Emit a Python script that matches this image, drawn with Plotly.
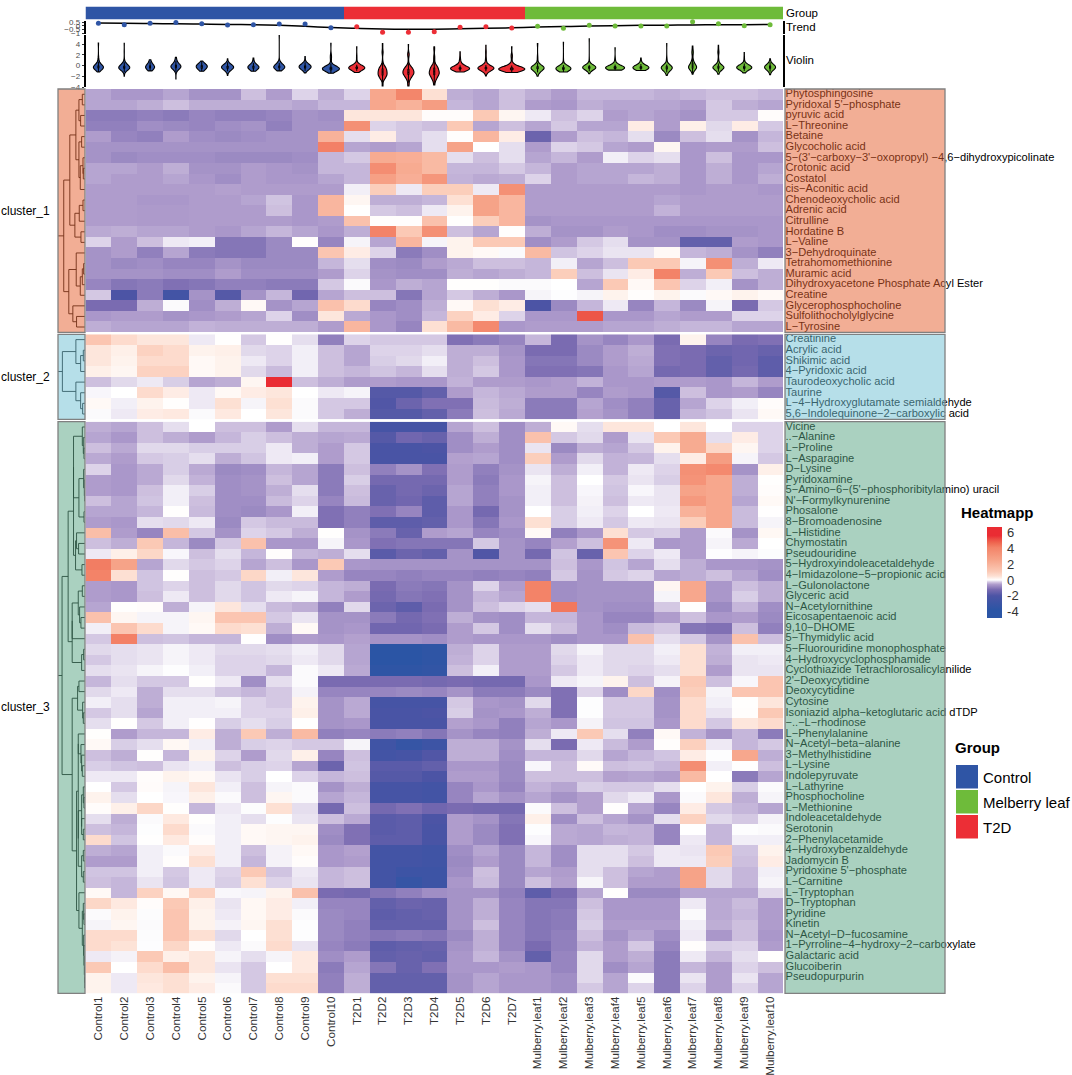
import numpy as np
import plotly.graph_objects as go

# Columns
samples = ["Control%d" % i for i in range(1, 11)] + ["T2D%d" % i for i in range(1, 8)] + \
    ["Mulberry.leaf%d" % i for i in range(1, 11)]
group_index = [0] * 10 + [1] * 7 + [2] * 10
group_colors = ["#2F55A5", "#EC2E36", "#6EBB3A"]

# Row labels
rows_cluster_1 = ["Phytosphingosine", "Pyridoxal 5'-phosphate", "pyruvic acid", "L-Threonine", "Betaine",
                  "Glycocholic acid", "5-(3'-carboxy-3'-oxopropyl) -4,6-dihydroxypicolinate", "Crotonic acid",
                  "Costatol", "cis-Aconitic acid", "Chenodeoxycholic acid", "Adrenic acid", "Citrulline",
                  "Hordatine B", "L-Valine", "3-Dehydroquinate", "Tetrahomomethionine", "Muramic acid",
                  "Dihydroxyacetone Phosphate Acyl Ester", "Creatine", "Glycerophosphocholine",
                  "Sulfolithocholylglycine", "L-Tyrosine"]
rows_cluster_2 = ["Creatinine", "Acrylic acid", "Shikimic acid", "4-Pyridoxic acid", "Taurodeoxycholic acid",
                  "Taurine", "L-4-Hydroxyglutamate semialdehyde", "5,6-Indolequinone-2-carboxylic acid"]
rows_cluster_3 = ["Vicine", "..-Alanine", "L-Proline", "L-Asparagine", "D-Lysine", "Pyridoxamine",
                  "5-Amino-6-(5'-phosphoribitylamino) uracil", "N'-Formylkynurenine", "Phosalone",
                  "8-Bromoadenosine", "L-Histidine", "Chymostatin", "Pseudouridine", "5-Hydroxyindoleacetaldehyde",
                  "4-Imidazolone-5-propionic acid", "L-Gulonolactone", "Glyceric acid", "N-Acetylornithine",
                  "Eicosapentaenoic acid", "9,10-DHOME", "5-Thymidylic acid", "5-Fluorouridine monophosphate",
                  "4-Hydroxycyclophosphamide", "Cyclothiazide Tetrachlorosalicylanilide", "2'-Deoxycytidine",
                  "Deoxycytidine", "Cytosine", "Isoniazid alpha-ketoglutaric acid dTDP", "-..-L-rhodinose",
                  "L-Phenylalanine", "N-Acetyl-beta-alanine", "3-Methylhistidine", "L-Lysine", "Indolepyruvate",
                  "L-Lathyrine", "Phosphocholine", "L-Methionine", "Indoleacetaldehyde", "Serotonin",
                  "2-Phenylacetamide", "4-Hydroxybenzaldehyde", "Jadomycin B", "Pyridoxine 5'-phosphate",
                  "L-Carnitine", "L-Tryptophan", "D-Tryptophan", "Pyridine", "Kinetin", "N-Acetyl-D-fucosamine",
                  "1-Pyrroline-4-hydroxy-2-carboxylate", "Galactaric acid", "Glucoiberin", "Pseudopurpurin", ""]

# Colour levels read from the cells, Control 1-10 | T2D 1-7 | Mulberry leaf 1-10
values_cluster_1 = [
    [-0.9, -1.1, -1.1, -0.9, -1.2, -1.2, -0.6, -1.0, -0.4, -0.8, -0.4, 1.9, 2.9, 0.5, -0.8, -0.9, -0.6, -0.8, -1.0, -0.7, -0.7, -0.7, -0.8, -0.7, -0.6, -0.6, -0.7],
    [-0.9, -0.9, -0.8, -0.6, -0.8, -0.8, -0.8, -0.8, -0.9, -0.7, -0.7, 1.9, 1.6, 2.2, -0.7, -0.9, -0.6, -1.0, -1.1, -0.8, -0.9, -0.9, -0.9, -1.0, -0.5, -0.8, -0.9],
    [-1.7, -1.7, -1.6, -1.7, -1.5, -1.6, -1.6, -1.5, -1.2, -1.3, 0.4, 0.4, 0.4, 0.05, 0.05, 1.0, 0.15, -0.2, -0.6, -0.4, -1.0, -0.9, -1.0, -1.2, -0.5, -0.5, 0.05],
    [-1.6, -1.6, -1.3, -1.4, -1.5, -1.3, -1.2, -1.6, -1.2, -1.2, 2.6, -0.4, -0.5, -0.6, 1.0, -0.9, -0.6, -0.9, -0.5, -0.9, -0.9, 0.3, -1.0, 0.25, -0.35, 0.3, -0.5],
    [-1.0, -1.5, -1.6, -1.0, -1.3, -1.4, -1.3, -1.2, -1.2, 1.6, -0.3, 0.3, -0.5, -0.3, 0.03, 1.5, 0.3, -2.3, -1.0, -0.6, -0.7, -0.3, -1.4, -0.6, -0.3, -1.2, -0.7],
    [-1.2, -1.2, -1.2, -1.2, -1.2, -1.2, -1.2, -1.2, -1.2, 3.1, -0.9, -1.0, -0.9, -0.3, 2.0, 0.0, -0.3, -1.0, -0.4, -0.5, -0.9, -1.0, 0.15, -1.1, -1.0, -1.0, -0.6],
    [-1.2, -1.4, -1.3, -1.3, -1.3, -1.4, -1.4, -1.4, -1.3, -0.7, -0.5, 1.8, 1.7, 1.4, -0.3, -0.6, -0.3, -0.9, -0.7, -1.0, -0.15, -0.4, -0.3, -1.1, -0.6, -1.1, -1.1],
    [-0.9, -0.9, -1.0, -0.8, -1.2, -1.2, -1.0, -1.1, -1.2, -0.7, -0.7, 2.7, 1.8, 1.4, -0.7, -0.7, -0.5, -0.7, -1.0, -0.9, -0.9, -0.9, -0.8, -1.1, -0.8, -1.1, -0.9],
    [-0.9, -1.0, -1.0, -0.9, -1.1, -1.3, -1.0, -1.1, -1.1, -0.9, -0.7, 2.1, 1.7, 2.4, -0.75, -0.85, -0.8, -0.4, -1.0, -0.9, -0.9, -0.7, -0.8, -1.1, -0.8, -1.1, -0.8],
    [-1.0, -1.0, -1.0, -1.0, -1.0, -0.95, -1.0, -1.0, -1.0, -1.0, -0.15, 0.9, -0.2, 0.9, 0.9, -0.2, 2.6, -1.0, -1.0, -1.0, -1.0, -1.0, -1.0, -1.1, -1.0, -1.0, -1.1],
    [-1.0, -1.0, -1.1, -1.1, -1.0, -1.0, -0.9, -0.55, -1.1, 1.5, 0.15, -0.8, -0.8, -0.7, 0.5, 2.0, 1.5, -1.0, -1.0, -1.0, -1.0, -1.0, -0.9, -1.0, -1.0, -1.0, -1.0],
    [-1.0, -1.0, -1.05, -1.05, -1.0, -1.0, -1.0, -0.6, -1.1, 1.5, 0.02, -0.5, -0.6, -0.2, 0.2, 2.0, 1.5, -1.0, -1.0, -1.0, -1.0, -1.0, -0.75, -1.0, -1.0, -1.0, -1.0],
    [-1.0, -1.0, -1.05, -1.05, -1.0, -1.0, -1.0, -1.0, -1.1, -1.0, 1.2, 0.03, 0.03, 1.2, 0.02, 0.9, 1.5, -1.2, -1.1, -1.1, -1.1, -1.1, -1.1, -1.1, -1.1, -1.1, -1.1],
    [-0.85, -0.8, -0.9, -0.9, -1.0, -1.1, -0.9, -0.7, -0.9, -1.1, -0.8, 3.0, 1.0, 2.6, -0.6, -0.9, 0.02, -0.8, -1.2, -1.2, -1.0, -1.1, -1.3, -1.3, -1.2, -1.2, -1.1],
    [-0.4, -1.0, -0.6, -0.2, -0.15, -1.8, -1.8, -1.4, 0.03, -1.5, -0.1, -0.9, 1.5, -0.1, 0.2, 1.0, 1.0, -1.3, -1.0, -0.5, -0.3, -1.2, -1.2, -2.5, -2.5, -1.0, -1.1],
    [-1.2, -1.0, -1.6, -0.9, -1.7, -1.8, -1.8, -1.4, -1.4, 1.1, 0.3, -0.4, -1.7, -1.3, 0.2, 0.1, -0.05, 1.4, -0.55, -0.4, -0.25, -0.25, 0.1, -0.7, -0.8, -1.2, -1.6],
    [-1.2, -1.4, -1.3, -1.5, -1.5, -1.2, -1.4, -1.4, -1.4, -0.7, -0.3, -1.3, -1.4, -1.0, -0.85, -0.6, -0.6, -0.7, -0.15, -0.9, -0.6, 1.0, 1.0, -0.1, 2.6, -0.8, -0.2],
    [-1.2, -1.2, -1.2, -1.3, -1.3, -1.0, -1.3, -1.3, -1.3, -1.0, -0.4, -1.2, -1.3, -1.3, -0.8, -0.9, -0.8, -0.7, 0.9, -0.6, -0.25, 0.3, 3.0, -0.8, 1.0, -0.6, -0.8],
    [-1.5, -1.8, -1.7, -1.9, -1.8, -1.6, -1.6, -1.7, -1.7, -0.5, -0.05, -1.1, -0.8, -0.9, 0.02, 0.02, -0.05, -0.05, 0.0, -0.9, 1.0, 0.1, 1.1, -0.4, -0.15, -1.2, -0.8],
    [-0.5, -3.0, -1.7, -3.3, -1.2, -2.8, -1.2, -0.7, -2.2, -0.9, -0.6, -0.6, -1.8, -0.9, -0.5, -0.8, -1.1, -0.1, -0.02, -0.1, 0.2, 0.03, 0.2, -0.05, 0.1, 0.2, 0.1],
    [-2.0, -2.0, -0.8, -0.05, -1.3, -0.8, 0.1, -1.2, -0.9, 1.2, 0.6, -1.5, -1.3, -0.8, 0.1, 0.5, 0.3, -3.0, -1.4, -0.7, -0.2, -1.5, -0.7, -1.4, -0.1, -2.0, -0.5],
    [-1.1, -1.0, -1.0, -1.2, -1.1, -1.0, -0.9, -0.4, -1.3, 0.4, -0.85, -1.1, -1.3, -0.7, 0.8, 0.3, -0.4, -1.1, -1.1, 4.5, -1.1, -1.1, -0.9, -1.0, -1.0, -0.4, -0.4],
    [-0.8, -0.9, -0.9, -0.9, -0.75, -0.8, -0.8, -0.8, -0.8, -1.0, 1.5, -1.1, -1.5, 0.5, 1.4, 2.8, -1.1, -1.0, -1.0, -1.0, -0.9, -0.9, -0.8, -0.7, -0.7, -0.9, -0.9],
]
values_cluster_2 = [
    [1.1, 0.6, 0.4, 0.4, -0.2, 0.02, -0.5, 0.02, -0.3, -1.6, -0.4, -0.5, -0.5, -0.5, -1.9, -1.7, -1.5, -0.7, -2.0, -1.2, -1.5, -1.1, -2.0, 0.2, -1.5, -2.0, -1.9],
    [0.4, 0.25, 0.8, 0.6, 0.2, 0.25, -0.35, -0.4, -0.15, -0.6, -0.9, -0.4, -0.4, -0.3, -0.8, -0.8, -1.2, -2.0, -2.0, -1.4, -1.0, -0.8, -1.9, -2.0, -2.3, -2.2, -2.4],
    [0.4, 0.2, 0.6, 0.6, 0.1, 0.2, -0.2, -0.4, -0.15, -0.6, -0.9, -0.45, -0.35, -0.15, -0.8, -0.6, -1.1, -1.8, -1.8, -1.4, -1.0, -0.85, -1.9, -2.0, -2.5, -2.2, -2.6],
    [0.25, 0.15, 0.8, 0.8, 0.1, 0.2, -0.35, -0.65, -0.15, -0.6, -0.7, -0.55, -0.7, -0.3, -0.8, -0.5, -1.1, -1.9, -1.9, -1.8, -1.1, -0.9, -2.1, -2.0, -2.5, -2.1, -2.6],
    [-0.6, -0.35, -0.2, -0.45, -0.9, -0.8, 0.15, 6.0, -0.6, -0.8, -1.0, -1.0, -1.1, -1.1, -0.75, -1.0, -1.0, -1.1, -1.0, -0.75, -1.1, -1.1, -1.0, -1.0, -1.1, -0.7, -1.0],
    [-0.08, 0.0, 0.6, 0.3, -0.2, 0.1, 0.3, 0.4, 0.0, -0.2, -0.1, -2.8, -2.8, -2.5, -1.0, -0.7, -0.85, -1.0, -1.0, -1.5, -1.0, -1.1, -2.8, -0.6, -1.1, -1.0, -1.5],
    [0.1, -0.15, 0.2, 0.02, -0.2, 0.5, -0.1, 0.5, -0.05, -0.5, -0.5, -2.9, -2.3, -1.9, -1.9, -0.65, -0.8, -1.7, -1.7, -0.9, -1.3, -1.6, -2.4, -0.9, -0.4, -0.15, 0.05],
    [-0.05, -0.2, 0.3, 0.35, -0.05, 0.35, 0.0, 0.4, -0.05, -0.5, -0.8, -2.8, -2.8, -2.5, -1.7, -0.6, -0.85, -1.7, -1.7, -0.95, -1.2, -1.6, -2.4, -0.7, -0.55, -0.25, 0.1],
]
values_cluster_3 = [
    [-0.8, -0.9, -0.6, -0.3, 0.0, -0.6, -0.6, -1.0, -0.3, -0.7, -0.7, -3.2, -3.2, -3.2, -0.9, -0.6, -1.3, -0.8, 0.1, -0.3, 0.4, 0.4, 0.0, 0.4, 0.0, -0.4, -0.4],
    [-0.9, -1.1, -0.6, -0.8, -1.0, -0.7, -0.45, -0.6, -0.8, -0.9, -0.85, -2.8, -2.2, -2.4, -1.3, -0.8, -1.3, 1.2, -0.5, -0.35, -1.0, -0.25, 1.0, 1.8, -0.3, 0.3, -0.4],
    [-0.6, -0.85, -0.35, -0.35, -0.45, -0.45, -0.45, -0.2, -0.8, -1.0, -0.5, -3.1, -3.1, -3.0, -1.3, -1.0, -1.3, -0.25, -1.4, -0.8, -0.9, -0.5, 0.2, 1.8, 0.7, 0.15, -0.4],
    [-0.85, -1.0, -0.5, -0.45, -0.3, -0.8, -0.55, -0.2, -0.15, -1.0, -0.5, -3.1, -3.1, -3.1, -0.95, -0.9, -1.3, 0.9, -1.0, -0.35, -0.75, -0.7, -0.3, 0.3, 2.2, -0.1, -0.5],
    [-0.4, -1.1, -0.85, -0.45, -0.85, -1.4, -1.3, -0.7, -0.9, -1.7, -0.6, -1.6, -1.2, -1.9, -1.0, -1.6, -1.2, -0.25, -0.8, -0.15, -0.75, -0.2, -0.4, 2.6, 2.8, -1.2, 0.25],
    [-1.0, -1.1, -0.85, -0.35, -0.75, -1.3, -1.2, -0.6, -0.9, -1.7, -0.45, -2.1, -2.1, -2.1, -1.0, -1.7, -1.1, -0.1, -0.6, 0.0, -0.5, -0.25, -0.45, 2.5, 1.9, -0.8, 0.02],
    [-1.0, -1.1, -0.6, -0.15, -0.45, -1.3, -1.2, -0.8, -0.3, -1.7, -0.6, -2.4, -2.1, -2.3, -0.9, -1.6, -1.1, -0.15, -0.6, -0.08, -0.55, -0.08, -0.25, 2.0, 1.9, -0.8, 0.05],
    [-0.6, -0.9, -0.55, -0.15, -0.6, -1.3, -1.3, -0.65, -0.4, -1.5, -0.65, -2.4, -2.2, -2.6, -0.9, -1.6, -1.2, -0.15, -0.6, -0.12, -0.6, -0.2, -0.25, 2.3, 1.9, -0.9, 0.1],
    [-0.9, -0.9, -0.7, 0.02, -0.65, -1.3, -1.4, -1.1, -0.15, -1.9, -1.6, -1.9, -1.5, -2.6, -1.1, -2.1, -1.2, 0.0, -0.45, -0.15, -0.4, 0.0, -0.2, 1.6, 1.9, -0.65, 0.01],
    [-1.0, -1.1, -0.3, -0.35, -0.2, -1.4, -0.5, -0.65, -0.65, -1.9, -1.6, -2.6, -2.6, -2.5, -1.1, -1.8, -1.1, 0.5, -0.45, -0.2, -0.5, -0.2, -0.25, 0.9, 1.9, -0.65, -0.1],
    [1.3, -1.0, -1.5, 1.3, -0.5, -1.2, -0.4, -0.5, -0.8, 0.02, -1.2, -1.7, -2.4, -1.0, -0.9, -1.5, -1.3, 0.1, -1.6, -1.1, 0.5, -0.5, -0.45, -1.0, -0.05, -1.2, 0.12],
    [-0.6, -0.8, 1.0, -0.7, -1.4, -0.5, 1.2, -1.1, -1.1, -0.1, -1.1, -1.9, -1.8, -1.8, -1.8, -0.5, -1.2, -1.5, -0.95, -0.6, 2.5, -0.2, -1.1, -1.0, -0.1, -0.85, 0.0],
    [-0.2, 0.25, 0.7, -0.08, -0.6, -0.3, -0.7, 0.03, -0.7, -0.8, -0.3, -2.7, -2.3, -2.5, -1.2, -2.9, -1.2, -2.1, -0.55, -2.4, 1.1, -0.4, -0.2, -1.0, -0.02, -0.1, -0.03],
    [3.2, 2.0, -0.9, -0.35, -0.5, -0.4, -0.9, -0.6, -1.1, 1.0, -1.1, -1.2, -1.2, -1.2, -1.2, -1.2, -1.2, -1.2, -0.6, -1.1, -0.55, -0.9, -0.3, -0.8, -1.1, -1.1, -1.2],
    [3.0, 0.5, -0.55, 0.02, -0.6, -0.5, 0.7, -0.15, 0.4, -1.0, -1.5, -1.5, -1.6, -1.5, -1.5, -1.6, -1.5, -1.6, -0.5, -1.2, -0.5, -0.4, -0.9, -0.8, -0.6, -0.9, -1.3],
    [-1.0, -1.1, -0.55, -0.4, -0.6, -0.35, -0.55, -0.35, -0.4, -0.7, -0.8, -2.0, -1.7, -1.8, -1.2, -0.4, -1.0, 3.0, -1.3, -1.2, -1.2, -1.2, 0.15, 1.9, -1.1, -0.6, -0.8],
    [-1.0, -1.1, -0.6, -0.2, -0.6, -0.35, -0.55, -0.2, -0.1, -0.7, -1.0, -2.1, -1.8, -1.9, -1.2, -0.7, -0.9, 3.0, -1.3, -1.2, -1.2, -1.2, -0.1, 1.9, -1.1, -0.45, -0.8],
    [-0.9, 0.02, 0.05, -0.8, -0.1, 0.4, -0.3, -0.65, -0.8, -1.6, -0.35, -2.3, -2.6, -2.0, -1.2, -0.6, -0.4, -0.3, 3.4, -1.2, -1.3, -1.3, -0.5, 0.02, -1.4, -0.7, -1.3],
    [1.2, 0.15, -0.1, -0.1, 0.15, 1.1, 1.1, -0.5, -0.25, -1.2, -1.2, -1.7, -2.1, -1.9, -0.8, -1.2, -1.3, -0.7, -0.7, -1.1, -1.5, -1.5, -1.0, -0.6, -1.1, -1.0, -1.4],
    [-0.15, 1.1, 0.6, -0.1, 0.1, 0.6, 0.5, -0.8, 0.1, -1.2, -1.1, -2.2, -2.2, -2.0, -1.0, -0.5, -1.3, -0.3, -0.6, -1.1, -1.3, -0.65, -0.5, -1.8, -1.9, -0.6, -1.6],
    [-0.5, 3.1, -0.6, -0.55, -0.7, -0.7, 0.01, -1.3, -1.0, -1.1, -0.95, -1.2, -1.2, -1.3, -1.0, -1.1, -1.1, -1.1, -1.3, -1.1, -1.1, 1.2, -0.3, -0.5, -1.2, 1.2, -0.6],
    [-0.35, -0.3, -0.25, -0.1, -0.2, -0.35, -0.35, -0.3, -0.15, -0.35, -0.9, -4.0, -4.0, -3.9, -0.8, -0.4, -1.0, -1.0, -0.35, -0.1, -0.35, -0.35, -0.15, 0.5, -0.75, -0.15, -0.15],
    [-0.5, -0.3, -0.25, -0.1, -0.2, -0.4, -0.4, -0.35, -0.2, -0.35, -0.9, -4.0, -4.0, -3.9, -0.75, -0.4, -1.0, -1.0, -0.4, -0.2, -0.35, -0.35, -0.2, 0.5, -0.8, -0.25, -0.2],
    [-0.3, -0.25, -0.1, -0.02, -0.15, -0.4, -0.4, -0.7, -0.05, -0.2, -0.85, -3.9, -3.9, -3.8, -0.6, -0.15, -1.0, -1.0, -0.5, -0.2, -0.35, -0.4, -0.3, 0.5, -1.0, -0.25, -0.25],
    [-0.7, -0.3, -0.5, -0.5, 0.02, -0.2, -1.3, -0.3, -0.05, -2.0, -2.0, -2.0, -2.0, -2.1, -2.0, -2.1, -2.1, -1.1, -0.2, -0.1, 0.2, -0.6, -0.12, 1.0, -0.6, -0.08, 1.1],
    [-0.35, -0.2, -0.8, -0.3, -0.3, -0.55, -0.7, -0.5, -0.12, -1.5, -1.5, -1.5, -1.4, -1.5, -1.2, -1.7, -1.7, -1.4, -1.9, -0.4, -1.3, 0.7, -1.3, 0.9, -0.1, 1.1, 1.1],
    [-0.15, -0.3, -0.8, -0.15, -0.15, -0.1, -0.4, -0.5, 0.2, -1.2, -0.85, -3.2, -3.2, -3.2, -0.5, -1.1, -1.2, -0.35, -1.9, -0.02, -0.5, -0.5, -1.2, 0.6, -0.15, 0.02, 0.4],
    [-0.5, -0.3, -0.9, -0.15, -0.15, -0.15, -0.4, -0.4, 0.25, -1.2, -0.85, -3.1, -3.1, -3.0, -0.45, -1.2, -1.1, -0.8, -1.9, -0.02, -0.5, -0.5, -1.2, 0.6, -0.25, 0.03, 1.0],
    [-0.3, 0.02, -0.5, -0.15, 0.01, -0.45, -0.3, -0.45, 0.01, -1.2, -1.1, -3.1, -3.1, -3.1, -0.95, -1.1, -1.6, -0.9, -1.1, -0.12, -0.55, -0.55, -1.1, 0.6, -0.5, 0.4, 0.6],
    [0.02, -1.0, -0.7, -0.7, 0.3, -0.8, 1.0, -0.8, 1.4, -1.6, -1.5, -1.7, -1.6, -1.8, -1.2, -1.5, -1.6, -0.8, -0.2, 1.0, -0.3, -1.6, 0.1, -0.75, -1.2, -0.7, -1.7],
    [0.1, -0.45, -0.3, 0.12, -0.15, -0.8, -0.45, -0.4, -0.5, -0.5, -0.1, -3.4, -3.7, -3.5, -0.8, -0.8, -1.2, -0.3, -2.0, -0.2, -0.65, -1.0, 0.03, 0.85, -0.2, -0.7, -0.5],
    [-0.6, -0.8, 0.02, -0.7, 0.2, -0.4, -1.0, -0.35, 0.25, -1.5, -0.6, -3.3, -3.2, -2.9, -0.8, -0.8, -1.3, -0.7, -0.7, -0.35, -0.9, -0.7, -0.55, 0.3, -0.02, 1.9, -0.8],
    [-0.45, -0.55, -0.6, -0.25, -0.15, -0.6, -0.45, -0.4, -0.9, -2.3, -0.55, -2.7, -2.7, -2.5, -1.1, -1.1, -1.4, -0.08, -0.6, 0.08, -0.6, -0.55, -0.7, 2.7, -0.15, 0.01, -0.6],
    [-0.2, -0.2, 0.05, 0.2, 0.1, -0.25, -0.45, 0.0, -0.4, -0.7, -0.6, -2.8, -2.8, -3.0, -1.0, -1.0, -1.4, -0.6, -0.6, -0.6, -0.95, -0.9, -1.0, 1.4, 0.0, -1.7, -0.9],
    [0.0, -0.5, 0.06, -0.1, 0.4, -0.15, -0.6, -0.1, -0.05, -1.2, -0.8, -3.2, -3.2, -3.3, -1.5, -1.1, -1.5, -0.75, -0.9, -0.45, -0.5, -0.5, -0.3, 0.0, 0.2, -0.45, -0.05],
    [0.2, -0.3, 0.0, -0.08, 0.25, -0.05, -0.6, 0.15, -0.05, -0.9, -0.7, -3.2, -3.2, -3.3, -1.5, -0.9, -1.2, -0.9, -1.2, -0.95, -0.35, -0.2, -1.1, -0.05, 0.4, -0.8, -0.1],
    [0.05, 0.25, 0.7, 0.02, -0.7, -0.2, -0.03, 0.5, -0.3, -2.1, -0.6, -2.1, -1.9, -2.2, -2.0, -2.1, -2.1, -0.05, -0.6, -0.95, 0.02, -0.9, -1.5, 0.3, -0.5, -0.7, -0.9],
    [-0.3, -0.8, -0.05, 0.35, 0.02, -0.15, -0.3, -0.02, -0.25, -0.6, -0.85, -2.7, -2.6, -3.0, -1.0, -1.2, -1.8, 0.25, -1.3, -0.6, -0.9, -1.2, -0.3, 0.8, -0.35, -0.5, -0.12],
    [-0.6, -0.7, -0.02, 0.6, -0.05, -0.15, 0.1, 0.15, 0.15, -1.3, -1.9, -2.7, -2.6, -3.1, -1.0, -1.4, -1.9, -0.02, -0.85, -0.9, -0.7, -0.75, -1.5, 0.0, -0.7, -0.02, -0.05],
    [0.6, -0.55, 0.01, 0.35, 0.03, -0.15, 0.1, 0.15, 0.2, -1.4, -1.9, -2.6, -2.6, -3.1, -1.0, -1.4, -1.9, -0.08, -0.85, -0.9, -0.8, -0.75, -1.5, -0.2, -0.7, -0.15, -0.15],
    [-0.8, -0.9, -0.15, -0.05, 0.3, -0.15, -0.6, -0.12, 0.1, -1.1, -0.95, -3.3, -3.3, -3.4, -1.3, -0.9, -1.4, -0.7, -1.3, -0.3, -0.3, -0.5, -0.2, -0.25, 1.0, -0.55, 0.2],
    [-1.0, -1.0, -0.15, 0.03, 0.5, -0.15, -0.7, -0.12, 0.05, -1.1, -1.0, -3.3, -3.3, -3.4, -1.4, -1.0, -1.4, -0.7, -1.3, -0.3, -0.3, -0.6, -0.2, -0.2, 0.9, -0.6, 0.3],
    [-0.55, -0.55, -0.15, -0.5, -0.2, -0.4, 1.0, -0.55, -0.2, -0.7, -0.6, -3.3, -3.5, -3.5, -1.3, -0.6, -1.4, -0.9, -1.0, -0.3, -0.6, -0.9, -1.0, 2.0, -0.35, -0.7, -0.15],
    [-0.6, -0.7, -0.25, -0.55, -0.2, -0.45, 0.5, -0.4, -0.25, -0.7, -0.6, -3.3, -3.7, -3.5, -1.1, -0.65, -1.4, -0.6, -0.95, -0.1, -0.6, -1.0, -1.0, 2.0, -0.35, -0.7, -0.1],
    [0.1, -0.7, 0.8, 0.12, 0.8, -0.07, -0.1, 0.2, 1.2, -2.0, -2.1, -1.8, -1.6, -1.3, -1.2, -1.2, -1.6, -2.6, -2.0, -0.9, 0.02, -1.4, -1.4, -0.9, -0.9, -0.9, -0.35],
    [0.7, 0.35, 0.05, 1.0, 0.25, -0.25, 0.12, 0.3, -0.15, -1.5, -1.5, -2.5, -2.3, -2.4, -1.2, -0.8, -1.5, -1.8, -1.8, -0.6, -1.1, -1.1, -1.1, -0.2, -0.85, -0.65, -1.0],
    [-0.05, 0.2, -0.03, 1.1, 0.2, -0.2, 0.12, 0.3, -0.05, -1.4, -1.5, -2.6, -2.5, -2.4, -1.2, -0.8, -1.5, -1.8, -1.7, -0.5, -1.1, -1.1, -1.1, -0.05, -0.85, -0.7, -1.0],
    [-0.1, 0.15, -0.05, 1.1, 0.2, -0.12, 0.15, 0.5, -0.02, -1.4, -1.6, -2.5, -2.5, -2.5, -1.2, -0.6, -1.5, -1.8, -1.7, -0.45, -1.0, -1.0, -1.0, -0.15, -0.8, -0.6, -1.0],
    [0.6, 0.6, -0.03, 1.1, 0.5, -0.35, 0.0, 0.5, -0.02, -1.4, -1.6, -1.8, -1.7, -1.8, -1.4, -0.8, -1.5, -1.8, -1.6, -0.6, -1.2, -0.9, -1.3, -0.2, -1.1, -0.6, -1.1],
    [0.6, 0.45, -0.02, 0.7, 0.05, -0.2, -0.05, 0.6, -0.25, -1.5, -1.7, -2.6, -2.5, -2.4, -1.2, -0.8, -1.5, -2.0, -1.6, -0.75, -1.0, -0.5, -1.5, 0.03, -0.45, -0.4, -1.0],
    [-0.2, -0.12, 1.0, 0.25, 0.4, -0.1, -0.3, -0.1, 0.35, -1.3, -1.0, -2.5, -2.4, -2.5, -1.1, -0.7, -1.2, -2.5, -1.5, -0.35, -1.0, -0.8, -1.7, -0.2, -0.7, -0.3, 0.02],
    [1.0, 0.0, 0.6, 1.3, 0.4, -0.25, -0.5, 0.0, 0.35, -1.7, -0.9, -1.8, -2.4, -1.9, -1.1, -1.1, -1.0, -1.1, -1.5, -0.35, -1.3, -0.9, -1.7, -0.7, -1.0, -0.4, -0.6],
    [0.2, -0.2, 0.4, 0.5, 0.2, -0.1, -0.5, 0.5, 0.5, -1.6, -0.8, -2.5, -2.5, -2.5, -1.2, -0.9, -1.1, -1.1, -1.3, -0.35, -0.9, -0.05, -1.7, -0.25, -1.0, -0.25, -0.9],
    [0.2, -0.2, 0.35, 0.5, 0.3, -0.05, -0.5, 0.6, 0.6, -1.6, -0.8, -2.5, -2.5, -2.5, -1.2, -0.9, -1.1, -1.1, -1.3, -0.5, -0.9, -0.4, -1.7, -0.4, -1.0, -0.4, -0.9],
]

# Colour level -> legend value, set against the violin ranges in the reference
level_read = [-4.8, -4.0, -3.5, -3.0, -2.0, -1.5, -1.0, -0.5, 0.0, 0.5, 1.0, 2.0, 3.0, 4.5, 6.0, 6.7]
level_value = [-4.8, -3.8, -2.8, -2.0, -1.2, -0.85, -0.55, -0.25, 0.0, 0.5, 1.1, 2.6, 4.1, 5.0, 5.6, 6.7]

# Trend panel: per sample points and the smoothed line
trend_points = [0.33, 0.14, 0.33, 0.45, 0.28, 0.1, 0.14, 0.23, 0.23, -0.26, -0.12, -0.87, -0.87, -0.78, -0.2, -0.12, -0.3,
                -0.07, -0.33, 0.07, -0.03, -0.03, -0.03, 0.55, 0.28, 0.0, 0.14]
trend_smooth = [0.37, 0.33, 0.3, 0.27, 0.23, 0.19, 0.14, 0.06, -0.06, -0.23, -0.34, -0.43, -0.47, -0.45, -0.39, -0.34, -0.26,
                -0.17, -0.1, -0.03, 0.02, 0.06, 0.09, 0.11, 0.14, 0.15, 0.17]

# Peak width of each violin in pixels
violin_px = [10, 11, 9, 10, 11, 12, 11, 11, 12, 17, 16, 9, 11, 10, 19, 16, 26, 13, 15, 13, 19, 16, 11, 8, 11, 15, 11]

# Dendrograms: (height, child, child), leaves are row numbers
tree_cluster_1 = (63,
                  (45,
                   (27, (18, (8, 0, 1), (13, 2, 3)),
                    (18, (10, 4, 5), (14, (6, 6, (5, 7, 8)), 9))),
                   (30, (17, (6, 10, 11), 12), (12, 13, 14))),
                  (48, (26, 15, (14, (8, (4, 16, 17), 18), 19)), (36, 20, (25, 21, 22))))
tree_cluster_2 = (67, (27, 0, (13, (5, 1, 2), 3)), (27, 4, (13, 5, (7, 6, 7))))
tree_cluster_3 = (68,
                  (50,
                   (34, (34, (8, 0, (5, 1, (3, 2, 3))), (18, (4, 4, (2, 5, (1, 6, 7))), (3, 8, 9))),
                    (28, (25, 10, (19, 11, 12)), (9, 13, 14))),
                   (38, (38, (20, (8, 15, 16), (16, 17, (12, 18, 19))), 20), (10, (4, 21, 22), 23))),
                  (38, (22, (18, 24, 25), (7, 26, (5, 27, 28))),
                   (25, (20, (20, 29, (12, 30, (10, 31, (8, 32, 33)))),
                         (20, (10, (5, 34, (3, 35, 36)), (10, 37, (5, 38, 39))), (10, (5, 40, 41), (5, 42, 43)))),
                    (18, 44, (8, (5, 45, (3, 46, 47)), (4, 48, (3, 49, (2, 50, (1, 51, (1, 52, 53)))))))))
                  )

FONT = "Liberation Sans"
W, H = 1072, 1075


def px_x(x):
    return x / W


def px_y(y):
    return 1 - y / H


def dom_y(top, bottom):
    return [px_y(bottom), px_y(top)]


def nice(label):
    return label.replace("-", "\u2212")


def to_value(levels):
    return np.interp(levels, level_read, level_value)


def dendro(node, xs, ys):
    # walks the tree, returns (height, row position) of the node
    if not isinstance(node, tuple):
        return 0, node
    h0, a, b = node
    ha, ya = dendro(a, xs, ys)
    hb, yb = dendro(b, xs, ys)
    xs += [ha, h0, h0, hb, None]
    ys += [ya, ya, yb, yb, None]
    return h0, (ya + yb) / 2


CMIN, CMAX = -4.8, 6.7
scale_stops = [(-4.8, "#2B55A5"), (-4, "#2B55A5"), (-3, "#4C54A5"), (-2, "#7A6BB1"), (-1, "#AF9CCC"),
               (-0.5, "#D4C8E3"), (0, "#FFFFFF"), (0.5, "#FDE0D3"), (1, "#FBC9B5"), (2, "#F6A388"),
               (3, "#F38368"), (4, "#EF6750"), (5, "#EC4A42"), (6, "#EA2C33"), (6.7, "#EA2C33")]
colorscale = [[(float(to_value(v)) - CMIN) / (CMAX - CMIN), c] for v, c in scale_stops]

fig = go.Figure()

# Heatmap panels, top to bottom
clusters = [
    ("cluster_1", rows_cluster_1, values_cluster_1, tree_cluster_1, "y3", 89, 332.3, "rgba(229,93,43,0.5)"),
    ("cluster_2", rows_cluster_2, values_cluster_2, tree_cluster_2, "y2", 334.3, 419.3, "rgba(109,191,211,0.5)"),
    ("cluster_3", rows_cluster_3, values_cluster_3, tree_cluster_3, "y", 421.7, 993.3, "rgba(85,163,129,0.5)"),
]
for name, labels, values, tree, yref, top, bottom, tint in clusters:
    assert all(len(r) == 27 for r in values), name
    assert len(values) == len(labels), name
    fig.add_trace(go.Heatmap(x=samples, y=list(range(len(labels))), z=to_value(values).tolist(), coloraxis="coloraxis",
                             xaxis="x", yaxis=yref, hoverongaps=False))
    fig.add_trace(go.Scatter(x=[0.5] * len(labels), y=list(range(len(labels))), text=[nice(t) for t in labels],
                             mode="text", textposition="middle right", cliponaxis=False,
                             textfont=dict(family=FONT, size=11.1, color="black"),
                             xaxis="x2", yaxis=yref, showlegend=False))
    xs, ys = [], []
    root_h, root_y = dendro(tree, xs, ys)
    xs += [root_h, 80]
    ys += [root_y, root_y]
    fig.add_trace(go.Scatter(x=xs, y=ys, mode="lines", line=dict(color="black", width=0.9),
                             xaxis="x3", yaxis=yref, showlegend=False))

# Group strip
fig.add_trace(go.Heatmap(x=samples, y=[0], z=[group_index], zmin=0, zmax=2, showscale=False,
                         colorscale=[[0, group_colors[0]], [0.5, group_colors[1]], [1, group_colors[2]]],
                         xaxis="x", yaxis="y6"))

# Trend
fig.add_trace(go.Scatter(x=samples, y=trend_smooth, mode="lines", line=dict(color="black", width=1.5, shape="spline"),
                         xaxis="x", yaxis="y5", showlegend=False))
fig.add_trace(go.Scatter(x=samples, y=trend_points, mode="markers", cliponaxis=False,
                         marker=dict(size=5, color=[group_colors[g] for g in group_index]),
                         xaxis="x", yaxis="y5", showlegend=False))

# Violins are built from the heatmap columns
all_rows = to_value(values_cluster_1 + values_cluster_2 + values_cluster_3)
for j, sample in enumerate(samples):
    col = all_rows[:, j].tolist()
    fig.add_trace(go.Violin(x=[sample] * len(col), y=col, name=sample, showlegend=False, points=False,
                            scalemode="width", width=violin_px[j] / 25.85, spanmode="hard", bandwidth=0.42,
                            fillcolor=group_colors[group_index[j]], opacity=1,
                            line=dict(color="black", width=1.1),
                            box=dict(visible=True, width=0.1, fillcolor=group_colors[group_index[j]],
                                     line=dict(color="black", width=1)),
                            xaxis="x", yaxis="y4"))

fig.update_layout(
    width=W, height=H, margin=dict(l=0, r=0, t=0, b=0, autoexpand=False), paper_bgcolor="white", plot_bgcolor="white",
    font=dict(family=FONT, color="black"), showlegend=False, violinmode="overlay",
    coloraxis=dict(cmin=CMIN, cmax=CMAX, colorscale=colorscale,
                   colorbar=dict(x=px_x(987), xanchor="left", xpad=0, ypad=0, y=px_y(572.5), yanchor="middle",
                                 lenmode="pixels", len=91, thickness=15, outlinewidth=0,
                                 tickvals=[-4, -2, 0, 2, 4, 6], ticktext=["-4", "-2", "0", "2", "4", "6"],
                                 ticks="outside", ticklen=3, tickcolor="white", tickwidth=1,
                                 tickfont=dict(family=FONT, size=13, color="#333333"))),
    xaxis=dict(domain=[px_x(85.5), px_x(783)], anchor="y", categoryorder="array", categoryarray=samples,
               range=[-0.5, 26.5], tickangle=-90, ticks="", showgrid=False, zeroline=False,
               tickfont=dict(family=FONT, size=11.6, color="#333333")),
    xaxis2=dict(domain=[px_x(785), px_x(945)], range=[0, 160], visible=False, anchor="y"),
    xaxis3=dict(domain=[px_x(58), px_x(85)], range=[80, 0], visible=False, anchor="y"),
    yaxis=dict(domain=dom_y(421.7, 993.3), range=[53.5, -0.5], visible=False, anchor="x"),
    yaxis2=dict(domain=dom_y(334.3, 419.3), range=[7.5, -0.5], visible=False, anchor="x"),
    yaxis3=dict(domain=dom_y(89, 332.3), range=[22.5, -0.5], visible=False, anchor="x"),
    yaxis4=dict(domain=dom_y(35, 87), range=[-4.0, 5.72], anchor="x", tickvals=[-4, -2, 0, 2, 4],
                ticktext=["\u22124", "\u22122", "0", "2", "4"], ticks="outside", ticklen=2, tickcolor="#333333",
                tickfont=dict(family=FONT, size=8, color="#4D4D4D"), showgrid=False, zeroline=False,
                showline=True, linecolor="black", linewidth=1.5, mirror=True),
    yaxis5=dict(domain=dom_y(21, 34), range=[-1.09, 0.64], anchor="x", tickvals=[-1, -0.5, 0, 0.5],
                ticktext=["\u22121", "\u22120.5", "0", "0.5"], ticks="outside", ticklen=2, tickcolor="#333333",
                tickfont=dict(family=FONT, size=8, color="#4D4D4D"), showgrid=False, zeroline=False,
                showline=True, linecolor="black", linewidth=1.5, mirror=True),
    yaxis6=dict(domain=dom_y(6.5, 19.5), range=[-0.5, 0.5], visible=False, anchor="x"),
)

# Tinted boxes lie over the labels and dendrograms
shapes = []
for name, labels, values, tree, yref, top, bottom, tint in clusters:
    for x0, x1 in [(58, 85), (785, 945)]:
        shapes.append(dict(type="rect", xref="paper", yref="paper", layer="above",
                           x0=px_x(x0), x1=px_x(x1), y0=px_y(bottom), y1=px_y(top),
                           fillcolor=tint, line=dict(color="#808080", width=1.3)))
# white ticks across both edges of the colour bar
for v in [-4, -2, 0, 2, 4, 6]:
    yy = 580 - v * 7.9
    for x0, x1 in [(987, 991), (998, 1002)]:
        shapes.append(dict(type="line", xref="paper", yref="paper", layer="above", x0=px_x(x0), x1=px_x(x1),
                           y0=px_y(yy), y1=px_y(yy), line=dict(color="white", width=1)))
# Group legend swatches
legend_items = ["Control", "Melberry leaf", "T2D"]
annotations = []
for i, label in enumerate(legend_items):
    y0 = 765 + i * 25
    shapes.append(dict(type="rect", xref="paper", yref="paper", x0=px_x(956), x1=px_x(978),
                       y0=px_y(y0 + 23.5), y1=px_y(y0), fillcolor=group_colors[[0, 2, 1][i]], line=dict(width=0)))
    annotations.append((981, y0 + 12, label, 15, False))

annotations += [(-1, 211, "cluster_1", 12, False), (-1, 377, "cluster_2", 12, False), (-1, 707, "cluster_3", 12, False),
                (784, 13.5, "Group", 11.5, False), (784, 27, "Trend", 11.5, False), (784, 60, "Violin", 11.5, False),
                (959, 512, "Heatmapp", 15, True), (953, 747, "Group", 15, True)]
fig.update_layout(shapes=shapes, annotations=[
    dict(xref="paper", yref="paper", x=px_x(x), y=px_y(y), text="<b>%s</b>" % t if bold else t, showarrow=False,
         xanchor="left", yanchor="middle", font=dict(family=FONT, size=s, color="black"))
    for x, y, t, s, bold in annotations])

fig.write_html("out.html", config={"displayModeBar": False}, post_script="document.body.style.margin='0';")
